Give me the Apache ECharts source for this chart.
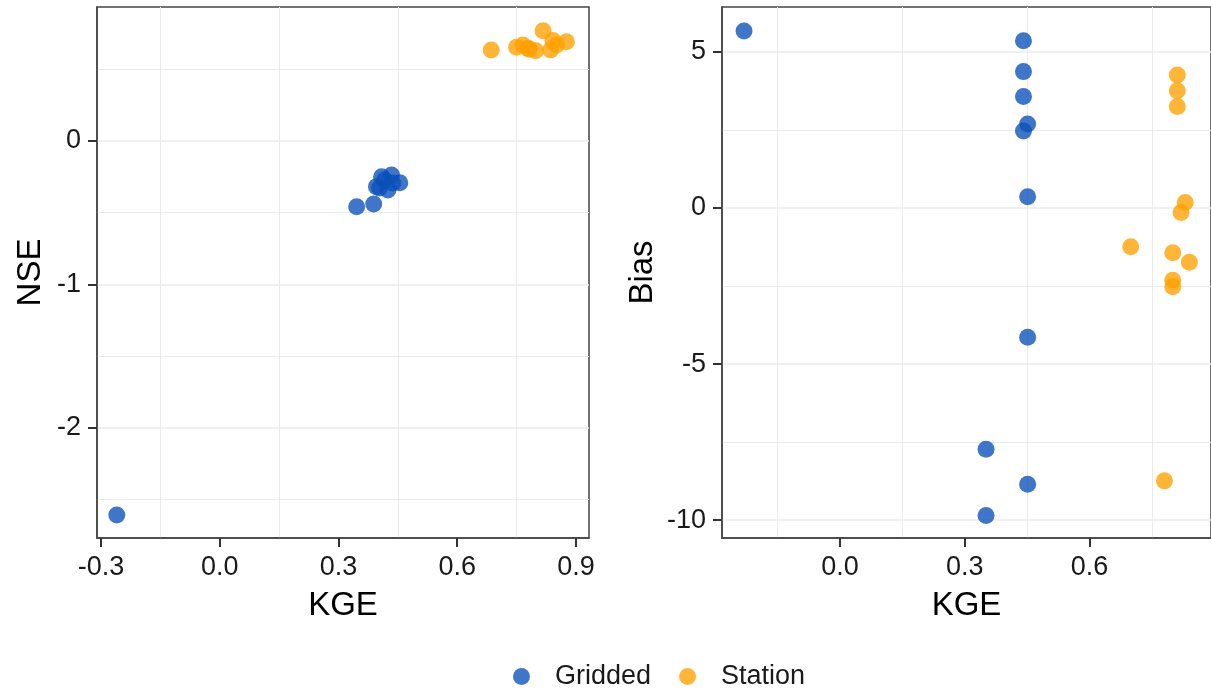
<!DOCTYPE html>
<html>
<head>
<meta charset="utf-8">
<script src="https://cdn.jsdelivr.net/npm/echarts@6/dist/echarts.min.js"></script>
<style>
html,body{margin:0;padding:0;background:#fff;}
#chart{width:1211px;height:689px;}
</style>
</head>
<body>
<div id="chart"></div>
<script>
// ---- Data ----
const seriesNames = ['Gridded', 'Station'];

// Left panel: KGE vs NSE
const leftGriddedKGE = [-0.260, 0.346, 0.389, 0.455, 0.434, 0.409, 0.396, 0.425, 0.417, 0.404, 0.437];
const leftGriddedNSE = [-2.606, -0.458, -0.439, -0.291, -0.237, -0.249, -0.318, -0.341, -0.272, -0.328, -0.293];
const leftStationKGE = [0.686, 0.750, 0.766, 0.779, 0.798, 0.817, 0.836, 0.842, 0.851, 0.876, 0.782];
const leftStationNSE = [0.634, 0.653, 0.669, 0.646, 0.629, 0.769, 0.634, 0.700, 0.669, 0.692, 0.639];

// Right panel: KGE vs Bias
const rightGriddedKGE = [-0.231, 0.441, 0.441, 0.441, 0.451, 0.441, 0.451, 0.451, 0.351, 0.451, 0.351];
const rightGriddedBias = [5.67, 5.36, 4.37, 3.57, 2.69, 2.47, 0.36, -4.14, -7.73, -8.85, -9.85];
const rightStationKGE = [0.811, 0.811, 0.811, 0.830, 0.820, 0.699, 0.800, 0.840, 0.800, 0.800, 0.780];
const rightStationBias = [4.26, 3.76, 3.25, 0.18, -0.14, -1.24, -1.43, -1.74, -2.31, -2.52, -8.74];

// Tick labels / grid breaks
const leftXTicks = [-0.3, 0.0, 0.3, 0.6, 0.9];
const leftXMinor = [-0.15, 0.15, 0.45, 0.75];
const leftYTicks = [0, -1, -2];
const leftYMinor = [0.5, -0.5, -1.5, -2.5];
const rightXTicks = [0.0, 0.3, 0.6];
const rightXMinor = [-0.15, 0.15, 0.45, 0.75];
const rightYTicks = [5, 0, -5, -10];
const rightYMinor = [2.5, -2.5, -7.5];

const xTitle = 'KGE';
const leftYTitle = 'NSE';
const rightYTitle = 'Bias';

// ---- Styling ----
const FONT = 'Liberation Sans, Arial, Helvetica, sans-serif';
const BLUE = '#0a4fb8';
const ORANGE = '#ffa000';
const OPACITY = 0.78;
const GRIDC = '#ebebeb';

function zip(a, b) { return a.map((v, i) => [v, b[i]]); }

function visAxis(type, min, max, ticks, fmt, name, nameGap, gridIndex, majorLines) {
  return {
    type: 'value', gridIndex, min, max,
    position: type === 'x' ? 'bottom' : 'left',
    name, nameLocation: 'middle', nameGap,
    nameTextStyle: {fontFamily: FONT, fontSize: 33, color: '#000'},
    axisLine: {show: true, onZero: false, lineStyle: {color: '#444', width: 1.5}},
    axisTick: {show: true, length: 9, customValues: ticks, lineStyle: {color: '#333', width: 2}},
    axisLabel: {show: true, customValues: ticks, margin: type === 'x' ? 16 : 16,
      fontFamily: FONT, fontSize: 27, color: '#1a1a1a', formatter: fmt,
      showMinLabel: true, showMaxLabel: true},
    splitLine: {show: majorLines, lineStyle: {color: GRIDC, width: 1.6}},
    minorTick: {show: false}, minorSplitLine: {show: false}
  };
}
function gridAxis(type, min, max, ticks, gridIndex) {
  return {
    type: 'value', gridIndex, min, max,
    position: type === 'x' ? 'bottom' : 'left',
    axisLine: {show: false, onZero: false},
    axisTick: {show: false, customValues: ticks},
    axisLabel: {show: false, customValues: ticks},
    splitLine: {show: true, lineStyle: {color: GRIDC, width: 1}}
  };
}
const f1 = v => Number(v).toFixed(1);
const f0 = v => String(Math.round(v));

function scatter(name, data, xi, yi, color) {
  return {
    type: 'scatter', name, data, xAxisIndex: xi, yAxisIndex: yi,
    symbol: 'circle', symbolSize: 17,
    itemStyle: {color, opacity: OPACITY},
    emphasis: {disabled: true}
  };
}

const chart = echarts.init(document.getElementById('chart'), null, {renderer: 'canvas'});
chart.setOption({
  animation: false,
  backgroundColor: '#fff',
  grid: [
    {left: 97, top: 7, width: 492, height: 531, show: true, borderColor: '#444', borderWidth: 1.5, backgroundColor: 'transparent'},
    {left: 722, top: 7, width: 493, height: 531, show: true, borderColor: '#444', borderWidth: 1.5, backgroundColor: 'transparent'}
  ],
  xAxis: [
    visAxis('x', -0.31, 0.933, leftXTicks, f1, xTitle, 51, 0, false),
    gridAxis('x', -0.31, 0.933, leftXMinor, 0),
    visAxis('x', -0.284, 0.892, rightXTicks, f1, xTitle, 51, 1, false),
    gridAxis('x', -0.284, 0.892, rightXMinor, 1)
  ],
  yAxis: [
    visAxis('y', -2.767, 0.934, leftYTicks, f0, leftYTitle, 50, 0, true),
    gridAxis('y', -2.767, 0.934, leftYMinor, 0),
    visAxis('y', -10.57, 6.44, rightYTicks, f0, rightYTitle, 63, 1, true),
    gridAxis('y', -10.57, 6.44, rightYMinor, 1)
  ],
  legend: {
    data: seriesNames.map(n => ({name: n, icon: 'circle'})),
    left: 513, top: 663, padding: 0,
    itemWidth: 57, itemHeight: 17, itemGap: 28,
    textStyle: {fontFamily: FONT, fontSize: 27, color: '#1a1a1a'},
    selectedMode: false
  },
  series: [
    scatter(seriesNames[0], zip(leftGriddedKGE, leftGriddedNSE), 0, 0, BLUE),
    scatter(seriesNames[1], zip(leftStationKGE, leftStationNSE), 0, 0, ORANGE),
    scatter(seriesNames[0], zip(rightGriddedKGE, rightGriddedBias), 2, 2, BLUE),
    scatter(seriesNames[1], zip(rightStationKGE, rightStationBias), 2, 2, ORANGE)
  ]
});
</script>
</body>
</html>
